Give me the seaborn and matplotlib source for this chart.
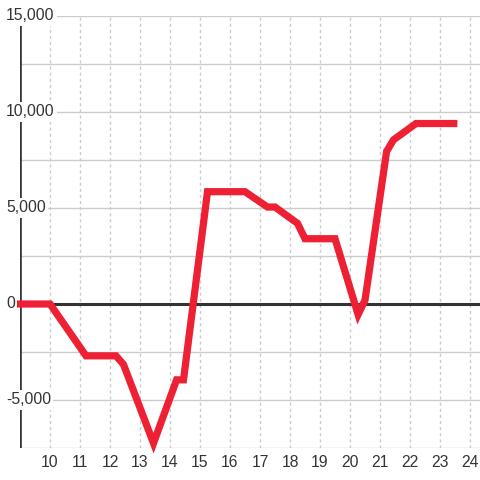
import numpy as np
import pandas as pd
import matplotlib
matplotlib.use("Agg")
import matplotlib.pyplot as plt
import matplotlib.transforms as mtransforms
import seaborn as sns

# data
hours = [8.9, 10, 11.2, 12.2, 12.45, 13.45, 14.22, 14.45, 15.25, 16.5, 17.25,
         17.5, 18.25, 18.5, 19.5, 20.27, 20.5, 21.22, 21.45, 22.2, 23.58]
values = [0, 0, -2700, -2700, -3150, -7250, -3950, -3950, 5850, 5850, 5050,
          5050, 4200, 3400, 3400, -550, 200, 7950, 8550, 9400, 9400]
x_ticks = list(range(10, 25))
y_labels = [15000, 10000, 5000, 0, -5000]
y_grid = [15000, 12500, 10000, 7500, 5000, 2500, 0, -2500, -5000, -7500]

sns.set_style("white")
plt.rcParams['font.family'] = ['Liberation Sans', 'DejaVu Sans']

text_col = '#333333'
grid_col = '#cccccc'
fsize = 11.3

fig = plt.figure(figsize=(4.8, 4.8), dpi=100)
ax = fig.add_axes([20 / 480, 32 / 480, 460 / 480, 432 / 480])

df = pd.DataFrame({'hour': hours, 'value': values})

# grid
for g in y_grid:
    ax.axhline(g, color=grid_col, lw=1.0, zorder=0.3)
for t in x_ticks:
    ax.axvline(t, color=grid_col, lw=1.0, ls=(0, (2.2, 2.2)), zorder=0.3)

# left axis line and zero line
ax.axvline(9, color=text_col, lw=2.6, zorder=0.4)
ax.axhline(0, color=text_col, lw=2.2, zorder=1)

sns.lineplot(data=df, x='hour', y='value', ax=ax, color='#ee2033', lw=5.2,
             sort=False, zorder=3)
for line in ax.lines[-1:]:
    line.set_solid_joinstyle('miter')
    line.set_solid_capstyle('butt')
    line.set_clip_on(False)

ax.set_xlim(9, 9 + 460 / 30)
ax.set_ylim(-7500, 15000)

for s in ax.spines.values():
    s.set_visible(False)

ax.set_xticks(x_ticks)
ax.set_xticklabels([str(t) for t in x_ticks])
ax.tick_params(axis='x', length=0, pad=5, labelsize=fsize, labelcolor=text_col)
ax.set_yticks([])
ax.set_xlabel('')
ax.set_ylabel('')

trans = mtransforms.blended_transform_factory(ax.transAxes, ax.transData)
for v in y_labels:
    ax.text((6 - 20) / 460, v, f"{v:,}", transform=trans,
            ha='left', va='center', fontsize=fsize, color=text_col, zorder=2,
            bbox=dict(facecolor='white', edgecolor='none', pad=1.5))

fig.savefig('out.png', dpi=100)
